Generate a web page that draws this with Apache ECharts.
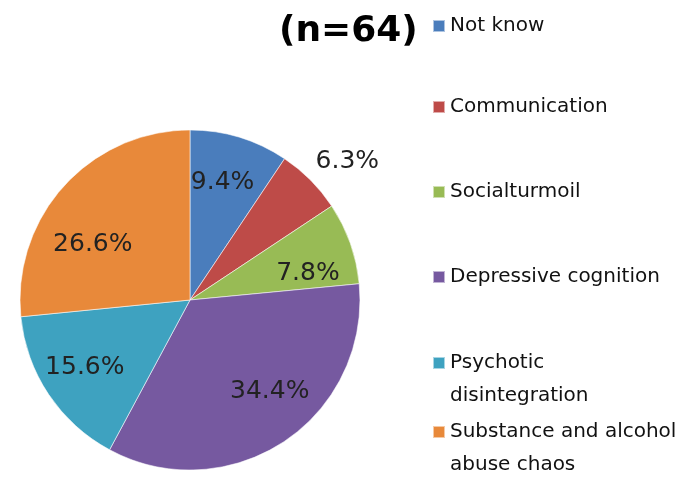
<!DOCTYPE html>
<html>
<head>
<meta charset="utf-8">
<script src="https://cdn.jsdelivr.net/npm/echarts@6/dist/echarts.min.js"></script>
<style>
  html, body { margin: 0; padding: 0; background: #fff; }
  #chart { width: 688px; height: 483px; }
</style>
</head>
<body>
<div id="chart"></div>
<script>
// ---- data ----
var categories = ['Not know', 'Communication', 'Social turmoil', 'Depressive cognition', 'Psychotic disintegration', 'Substance and alcohol abuse chaos'];
var legendLabels = ['Not know', 'Communication', 'Socialturmoil', 'Depressive cognition', 'Psychotic\ndisintegration', 'Substance and alcohol\nabuse chaos'];
var percentages = [9.4, 6.3, 7.8, 34.4, 15.6, 26.6];
var titleText = '(n=64)';

// ---- styles ----
var colors = ['#4A7DBC', '#BE4B48', '#98BB55', '#7659A0', '#3EA2C0', '#E8893A'];
var labelOffsets = [[7, -33], [95, -76], [35, 3], [31, 18], [-32, 19], [-32, 4]];
var legendIconCenters = [26, 107, 192, 277, 363, 432];
var LH = 33;

var chart = echarts.init(document.getElementById('chart'), null, { renderer: 'canvas' });

var pieData = categories.map(function (c, i) {
  return {
    name: c,
    value: percentages[i],
    itemStyle: { color: colors[i] },
    label: { offset: labelOffsets[i] }
  };
});

var legends = categories.map(function (c, i) {
  var multi = legendLabels[i].indexOf('\n') >= 0;
  return {
    show: true,
    orient: 'vertical',
    left: 432,
    top: legendIconCenters[i] - (multi ? LH * 1.5 : LH / 2),
    padding: 0,
    itemWidth: 12,
    itemHeight: 12,
    icon: 'rect',
    selectedMode: false,
    data: [c],
    // multi-line entries: a leading empty line keeps the icon level with the first text line
    formatter: function () { return (multi ? '\n' : '') + legendLabels[i]; },
    textStyle: {
      fontFamily: 'DejaVu Sans',
      fontSize: 20,
      color: '#111',
      lineHeight: LH
    }
  };
});

chart.setOption({
  animation: false,
  backgroundColor: '#fff',
  title: {
    text: titleText,
    left: 279,
    top: 14,
    padding: 0,
    textStyle: { fontFamily: 'DejaVu Sans', fontWeight: 'bold', fontSize: 36, color: '#000' }
  },
  legend: legends,
  series: [{
    type: 'pie',
    center: [190, 300],
    radius: 170,
    startAngle: 90,
    clockwise: true,
    avoidLabelOverlap: false,
    silent: true,
    itemStyle: { borderColor: 'rgba(255,255,255,0.55)', borderWidth: 1 },
    label: {
      show: true,
      position: 'inside',
      formatter: function (p) { return p.value.toFixed(1) + '%'; },
      fontFamily: 'DejaVu Sans',
      fontSize: 25,
      color: '#222'
    },
    labelLine: { show: false },
    emphasis: { disabled: true },
    data: pieData
  }]
});
</script>
</body>
</html>
